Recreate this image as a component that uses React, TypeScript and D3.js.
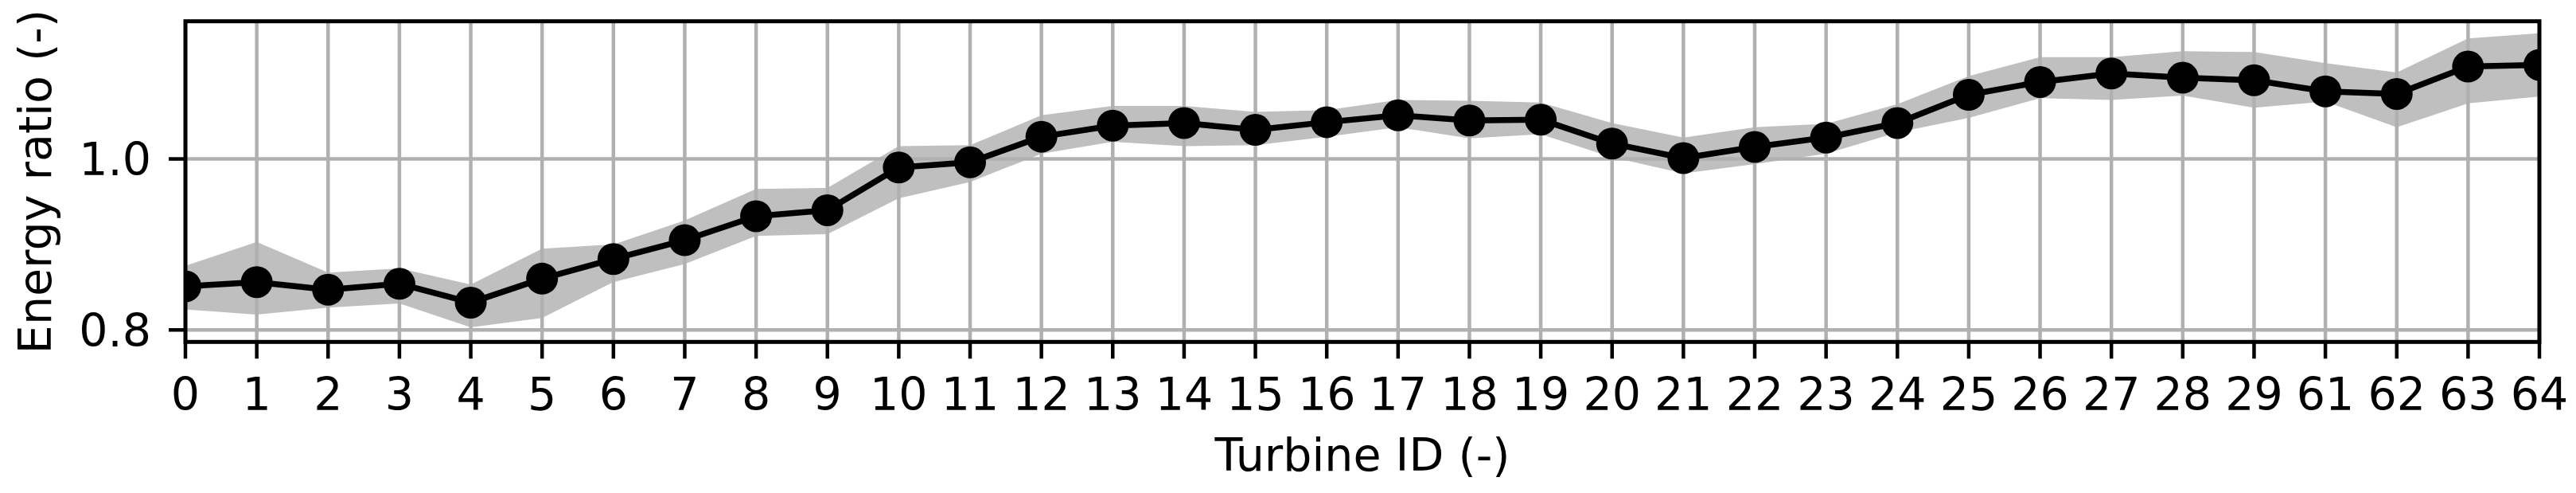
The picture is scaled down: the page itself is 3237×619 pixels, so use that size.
// Energy ratio per turbine, with uncertainty band
import React from 'react';
import * as d3 from 'd3';

const turbineIds = [
    '0', '1', '2', '3', '4', '5', '6', '7', '8', '9', '10', '11', '12', '13', '14', '15', '16',
    '17', '18', '19', '20', '21', '22', '23', '24', '25', '26', '27', '28', '29', '61', '62', '63', '64',
];

const energyRatio = [
    0.851, 0.856, 0.847, 0.854, 0.832, 0.860, 0.883, 0.905, 0.933, 0.940, 0.990, 0.996,
    1.026, 1.039, 1.042, 1.034, 1.043, 1.051, 1.045, 1.046, 1.018, 1.001, 1.014, 1.025,
    1.042, 1.075, 1.090, 1.100, 1.095, 1.092, 1.079, 1.076, 1.108, 1.110,
];

const lowerBound = [
    0.824, 0.818, 0.826, 0.831, 0.803, 0.814, 0.856, 0.877, 0.910, 0.912, 0.954, 0.973,
    1.006, 1.020, 1.015, 1.016, 1.026, 1.037, 1.024, 1.029, 1.002, 0.983, 0.994, 1.006,
    1.031, 1.048, 1.071, 1.069, 1.074, 1.060, 1.067, 1.037, 1.065, 1.073,
];

const upperBound = [
    0.875, 0.903, 0.867, 0.872, 0.853, 0.895, 0.900, 0.928, 0.965, 0.966, 1.015, 1.016,
    1.051, 1.062, 1.062, 1.055, 1.057, 1.069, 1.068, 1.066, 1.042, 1.025, 1.037, 1.041,
    1.064, 1.097, 1.119, 1.119, 1.126, 1.125, 1.112, 1.101, 1.141, 1.147,
];

const yTicks = [0.8, 1.0];

export default function App() {
    const W = 3237;
    const H = 619;
    const left = 233, right = 3191, top = 26.7, bottom = 429.3;
    const fontSize = 57;
    const font = 'DejaVu Sans, sans-serif';

    const x = d3.scalePoint<string>().domain(turbineIds).range([left, right]);
    const y = d3.scaleLinear().domain([0.786, 1.161]).range([bottom, top]);

    const rows = turbineIds.map((id, i) => ({
        id, mean: energyRatio[i], lo: lowerBound[i], hi: upperBound[i],
    }));

    const band = d3.area<typeof rows[0]>()
        .x(d => x(d.id)!)
        .y0(d => y(d.lo))
        .y1(d => y(d.hi))(rows);

    const line = d3.line<typeof rows[0]>()
        .x(d => x(d.id)!)
        .y(d => y(d.mean))(rows);

    return (
        <svg width={W} height={H} style={{ position: 'absolute', left: 0, top: 0, background: '#fff' }}>
            <defs>
                <clipPath id="plot-clip">
                    <rect x={left} y={top} width={right - left} height={bottom - top} />
                </clipPath>
            </defs>
            <rect x={0} y={0} width={W} height={H} fill="#fff" />

            <g clipPath="url(#plot-clip)">
                {/* uncertainty band */}
                <path d={band!} fill="#bfbfbf" />

                {/* grid */}
                {turbineIds.map(id => (
                    <line key={'gx' + id} x1={x(id)} x2={x(id)} y1={top} y2={bottom}
                        stroke="#b0b0b0" strokeWidth={4.5} />
                ))}
                {yTicks.map(t => (
                    <line key={'gy' + t} x1={left} x2={right} y1={y(t)} y2={y(t)}
                        stroke="#b0b0b0" strokeWidth={4.5} />
                ))}

                {/* mean line and markers */}
                <path d={line!} fill="none" stroke="#000" strokeWidth={7.5} strokeLinejoin="round" />
                {rows.map(d => (
                    <circle key={'m' + d.id} cx={x(d.id)} cy={y(d.mean)} r={20} fill="#000" />
                ))}
            </g>

            {/* spines */}
            <rect x={left} y={top} width={right - left} height={bottom - top}
                fill="none" stroke="#000" strokeWidth={5} />

            {/* x ticks */}
            {turbineIds.map(id => (
                <g key={'tx' + id}>
                    <line x1={x(id)} x2={x(id)} y1={bottom} y2={bottom + 21} stroke="#000" strokeWidth={4.5} />
                    <text x={x(id)} y={515} textAnchor="middle" fontFamily={font} fontSize={fontSize}>{id}</text>
                </g>
            ))}

            {/* y ticks */}
            {yTicks.map(t => (
                <g key={'ty' + t}>
                    <line x1={left - 21} x2={left} y1={y(t)} y2={y(t)} stroke="#000" strokeWidth={4.5} />
                    <text x={190} y={y(t) + 20.5} textAnchor="end" fontFamily={font} fontSize={fontSize}>
                        {t.toFixed(1)}
                    </text>
                </g>
            ))}

            {/* axis labels */}
            <text x={(left + right) / 2} y={591} textAnchor="middle" fontFamily={font} fontSize={fontSize}>
                Turbine ID (-)
            </text>
            <text transform={`translate(64,${(top + bottom) / 2}) rotate(-90)`} textAnchor="middle"
                fontFamily={font} fontSize={fontSize}>
                Energy ratio (-)
            </text>
        </svg>
    );
}
